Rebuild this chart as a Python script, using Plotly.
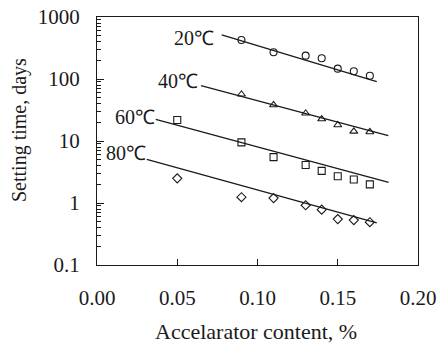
import math
import plotly.graph_objects as go

# ---- data ----
x_pts = [0.09, 0.11, 0.13, 0.14, 0.15, 0.16, 0.17]
y_20 = [426, 270, 238, 216, 147, 133, 113]
y_40 = [56.7, 38.1, 28.0, 22.6, 18.1, 14.3, 14.0]

x_pts_full = [0.05, 0.09, 0.11, 0.13, 0.14, 0.15, 0.16, 0.17]
y_60 = [21.8, 9.5, 5.5, 4.1, 3.3, 2.7, 2.4, 2.0]
y_80 = [2.5, 1.24, 1.2, 0.92, 0.78, 0.55, 0.53, 0.49]

# fitted regression lines (start, end)
fit20_x = [0.0777, 0.1743]
fit20_y = [513, 90.4]
fit40_x = [0.0648, 0.1815]
fit40_y = [78, 12.2]
fit60_x = [0.0366, 0.1817]
fit60_y = [22.4, 2.16]
fit80_x = [0.031, 0.1743]
fit80_y = [5.07, 0.48]

series_labels = ["20℃", "40℃", "60℃", "80℃"]
label_x = [0.0735, 0.0635, 0.0365, 0.0310]   # right edge of each label
label_y = [458, 93, 24.4, 6.4]

x_ticks = [0.00, 0.05, 0.10, 0.15, 0.20]
x_ticktext = ["0.00", "0.05", "0.10", "0.15", "0.20"]
y_ticks = [0.1, 1, 10, 100, 1000]
y_ticktext = ["0.1", "1", "10", "100", "1000"]

x_title = "Accelarator content, %"
y_title = "Setting time, days"

FONT = "Liberation Serif, Times New Roman, serif"
INK = "#1a1a1a"

# plot area at page x 97..418, y 17..265 (body margin removed below)
W, H = 438, 343
L, T = 97, 17
PW, PH = 321, 248
R, B = W - L - PW, H - T - PH

fig = go.Figure()

line_style = dict(color=INK, width=1.3)
for fx, fy in [(fit20_x, fit20_y), (fit40_x, fit40_y), (fit60_x, fit60_y), (fit80_x, fit80_y)]:
    fig.add_trace(go.Scatter(x=fx, y=fy, mode="lines", line=line_style,
                             showlegend=False, hoverinfo="skip"))

mk = dict(color=INK, line=dict(color=INK, width=1.1))
fig.add_trace(go.Scatter(x=x_pts, y=y_20, mode="markers",
                         marker=dict(symbol="circle-open", size=7, **mk), showlegend=False))
fig.add_trace(go.Scatter(x=x_pts, y=y_40, mode="markers",
                         marker=dict(symbol="triangle-up-open", size=7, **mk), showlegend=False))
fig.add_trace(go.Scatter(x=x_pts_full, y=y_60, mode="markers",
                         marker=dict(symbol="square-open", size=7, **mk), showlegend=False))
fig.add_trace(go.Scatter(x=x_pts_full, y=y_80, mode="markers",
                         marker=dict(symbol="diamond-open", size=7, **mk), showlegend=False))

for t, lx, ly in zip(series_labels, label_x, label_y):
    fig.add_annotation(x=lx, y=math.log10(ly), yref="y", xref="x", text=t, showarrow=False,
                       xanchor="right", yanchor="middle", borderpad=0,
                       font=dict(family=FONT, size=20, color=INK))

fig.add_annotation(text=x_title, showarrow=False, xref="paper", yref="paper",
                   x=(256 - 97) / PW, y=-(331 - 265) / PH, xanchor="center", yanchor="middle",
                   font=dict(family=FONT, size=22, color=INK))
fig.add_annotation(text=y_title, showarrow=False, xref="paper", yref="paper", textangle=-90,
                   x=-(97 - 19) / PW, y=(265 - 130) / PH, xanchor="center", yanchor="middle",
                   font=dict(family=FONT, size=20, color=INK))

fig.update_layout(
    width=W, height=H,
    margin=dict(l=L, r=R, t=T, b=B, autoexpand=False),
    paper_bgcolor="white", plot_bgcolor="white",
    font=dict(family=FONT, size=21, color=INK),
    showlegend=False,
)

fig.update_xaxes(range=[0, 0.2], tickvals=x_ticks, ticktext=x_ticktext,
                 ticks="inside", ticklen=6, tickcolor=INK, automargin=False,
                 ticklabeloverflow="allow",
                 showline=True, linecolor=INK, linewidth=1, mirror=True,
                 showgrid=False, zeroline=False, ticklabelstandoff=14,
                 tickfont=dict(family=FONT, size=21, color=INK))
fig.update_yaxes(type="log", range=[-1, 3], tickvals=y_ticks, ticktext=y_ticktext,
                 ticks="inside", ticklen=7, tickcolor=INK, automargin=False,
                 ticklabeloverflow="allow",
                 minor=dict(ticks="inside", ticklen=4, tickcolor=INK, dtick="D1", showgrid=False),
                 showline=True, linecolor=INK, linewidth=1, mirror=True,
                 showgrid=False, zeroline=False, ticklabelstandoff=12,
                 tickfont=dict(family=FONT, size=21, color=INK))

fig.write_html("out.html",
               config={"displayModeBar": False},
               post_script="document.body.style.margin='0';document.body.style.padding='0';")
